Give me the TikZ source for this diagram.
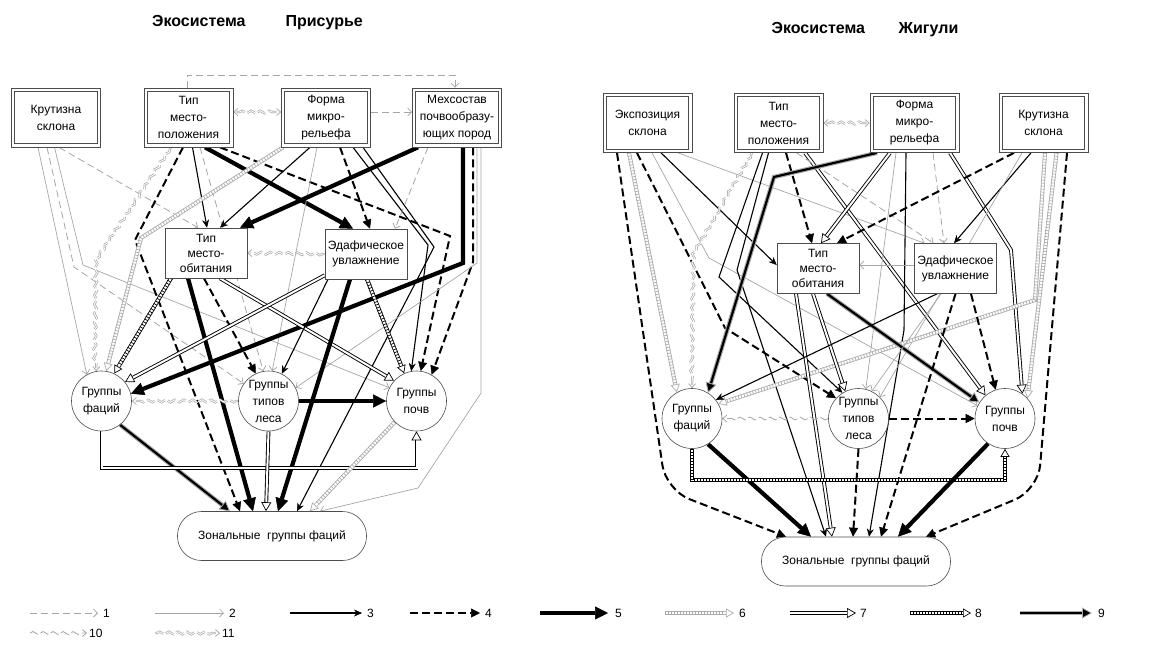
\documentclass[tikz,border=0pt]{standalone}
\usepackage{fontspec}
\setmainfont{Liberation Sans}
\usetikzlibrary{arrows.meta,decorations.pathmorphing,calc}
\pgfdeclarelayer{edges}
\pgfsetlayers{edges,main}
\newcommand{\myNodeFont}{\fontsize{12}{17}\selectfont}
\newcommand{\myMidFont}{\fontsize{12}{15}\selectfont}
\tikzset{
  topbox/.style={draw=gray!60!black, line width=0.7pt, fill=white,
     minimum width=89pt, minimum height=59pt, inner sep=1pt, align=center, font=\myNodeFont,
     path picture={\draw[gray!60!black, line width=0.7pt]
        ([shift={(3.3pt,3.3pt)}]path picture bounding box.south west) rectangle
        ([shift={(-3.3pt,-3.3pt)}]path picture bounding box.north east);}},
  midbox/.style={draw=gray!60!black, line width=0.6pt, fill=white, minimum width=82pt, minimum height=50pt,
     inner sep=1pt, align=center, font=\myMidFont},
  grp/.style={circle, draw=gray!60!black, line width=0.6pt, fill=white, minimum size=60pt, inner sep=0pt,
     align=center, font=\myNodeFont},
  zon/.style={rectangle, rounded corners=24pt, draw=gray!60!black, line width=0.6pt, fill=white,
     minimum width=189pt, minimum height=49pt, font=\myNodeFont},
  ttl/.style={font=\bfseries\fontsize{16}{18}\selectfont},
  lab/.style={anchor=west, inner sep=1pt, font=\fontsize{12}{14}\selectfont},
  a1/.style={draw=gray!70, line width=0.8pt, dash pattern=on 7pt off 4pt,
     -{Straight Barb[length=4pt,width=8pt,line width=0.8pt]}},
  a2/.style={draw=gray!70, line width=0.7pt, -{Straight Barb[length=4pt,width=8pt,line width=0.7pt]}},
  a3/.style={draw=black, line width=1.1pt, -{Stealth[length=8pt,width=7pt,line width=0.5pt]}},
  a4/.style={draw=black, line width=2pt, dash pattern=on 8pt off 4pt,
     -{Triangle[length=9pt,width=9pt,line width=0.5pt]}},
  a5/.style={draw=black, line width=4.2pt, -{Triangle[length=13pt,width=13pt,line width=0.5pt]}},
  a6/.style={preaction={draw=gray!65, solid, line width=4pt, shorten >=8pt, -},
     postaction={draw=gray!65, line width=4pt, dash pattern=on 0.7pt off 2.3pt, shorten >=9pt, -},
     draw=white, line width=2.4pt,
     -{Triangle[length=8pt,width=9pt,color=gray!65,fill=white,line width=0.7pt]}},
  a7/.style={preaction={draw=black, solid, line width=3.8pt, shorten >=9pt, -},
     draw=white, line width=2pt,
     -{Triangle[length=9pt,width=10pt,color=black,fill=white,line width=0.7pt]}},
  a8/.style={preaction={draw=black, solid, line width=4pt, shorten >=8pt, -},
     postaction={draw=black, line width=4pt, dash pattern=on 0.7pt off 2.3pt, shorten >=9pt, -},
     draw=white, line width=2.4pt,
     -{Triangle[length=8pt,width=9pt,color=black,fill=white,line width=0.7pt]}},
  a9/.style={preaction={draw=gray!65, solid, line width=4.4pt, shorten >=9pt, -},
     draw=black, line width=2.2pt,
     -{Triangle[length=10pt,width=11pt,color=gray!65,fill=black,line width=0.8pt]}},
  a10/.style={draw=gray!70, line width=0.8pt, decorate,
     decoration={snake, amplitude=1.5pt, segment length=10pt, post length=5pt},
     dash pattern=on 9pt off 3pt, -{Straight Barb[length=4pt,width=7pt,line width=0.8pt]}},
  a11/.style={
     postaction={draw=gray!65, line width=2.3pt, dash pattern=on 9pt off 3pt, decorate,
        decoration={snake, amplitude=1.3pt, segment length=9pt, pre length=2pt, post length=6pt}, shorten >=3pt},
     postaction={draw=white, line width=0.8pt, decorate,
        decoration={snake, amplitude=1.3pt, segment length=9pt, pre length=2pt, post length=6pt},
        -{Straight Barb[length=4pt,width=7pt,color=gray!65,line width=0.8pt]}}},
  a11both/.style={
     postaction={draw=gray!65, line width=2.3pt, dash pattern=on 9pt off 3pt, decorate,
        decoration={snake, amplitude=1.3pt, segment length=9pt, pre length=6pt, post length=6pt},
        shorten >=3pt, shorten <=3pt},
     postaction={draw=white, line width=0.8pt, decorate,
        decoration={snake, amplitude=1.3pt, segment length=9pt, pre length=6pt, post length=6pt},
        {Straight Barb[length=4pt,width=7pt,color=gray!65,line width=0.8pt]}-{Straight Barb[length=4pt,width=7pt,color=gray!65,line width=0.8pt]}}},
}
\begin{document}
\begin{tikzpicture}[x=1pt,y=-1pt]
\useasboundingbox (0,0) rectangle (1150,646);
% titles
\node[ttl] (t1) at (257.5,23) {Экосистема\hspace{2.5em}Присурье};
\node[ttl] (t2) at (865,30) {Экосистема\hspace{2.1em}Жигули};
% ---------------- left nodes
\node[topbox] (LKS) at (56,117.5) {Крутизна\\склона};
\node[topbox] (LTP) at (188.5,117.5) {Тип\\место-\\положения};
\node[topbox] (LFM) at (326,117.5) {Форма\\микро-\\рельефа};
\node[topbox] (LMS) at (457,117.5) {Мехсостав\\почвообразу-\\ющих пород};
\node[midbox] (LTO) at (206,253) {Тип\\место-\\обитания};
\node[midbox] (LEU) at (366,254) {Эдафическое\\увлажнение};
\node[grp] (LGF) at (101.5,401) {Группы\\фаций};
\node[grp] (LGL) at (268.5,401) {Группы\\типов\\леса};
\node[grp] (LGP) at (416.5,401) {Группы\\почв};
\node[zon] (LZG) at (272,536) {Зональные\ \ группы фаций};
% ---------------- right nodes
\node[topbox] (RKE) at (647.5,123) {Экспозиция\\склона};
\node[topbox] (RTP) at (778.5,123) {Тип\\место-\\положения};
\node[topbox] (RFM) at (914.5,123) {Форма\\микро-\\рельефа};
\node[topbox] (RKS) at (1043.5,123) {Крутизна\\склона};
\node[midbox] (RTO) at (818,268.5) {Тип\\место-\\обитания};
\node[midbox] (REU) at (955.5,268.5) {Эдафическое\\увлажнение};
\node[grp] (RGF) at (692,418.5) {Группы\\фаций};
\node[grp] (RGL) at (858.5,418.5) {Группы\\типов\\леса};
\node[grp] (RGP) at (1005,418.5) {Группы\\почв};
\node[zon] (RZG) at (856,561.5) {Зональные\ \ группы фаций};
% ---------------- legend
\coordinate (g1a) at (30,613);  \coordinate (g1b) at (98,613);
\coordinate (g2a) at (155,613); \coordinate (g2b) at (224,613);
\coordinate (g3a) at (290,613); \coordinate (g3b) at (362,613);
\coordinate (g4a) at (410,613); \coordinate (g4b) at (480,613);
\coordinate (g5a) at (540,613); \coordinate (g5b) at (608,613);
\coordinate (g6a) at (665,613); \coordinate (g6b) at (734,613);
\coordinate (g7a) at (790,613); \coordinate (g7b) at (856,613);
\coordinate (g8a) at (910,613); \coordinate (g8b) at (971,613);
\coordinate (g9a) at (1020,613); \coordinate (g9b) at (1092,613);
\coordinate (g10a) at (30,633); \coordinate (g10b) at (87,633);
\coordinate (g11a) at (155,633); \coordinate (g11b) at (220,633);
\node[lab] (n1) at (102,613) {1};
\node[lab] (n2) at (228,613) {2};
\node[lab] (n3) at (366,613) {3};
\node[lab] (n4) at (484,613) {4};
\node[lab] (n5) at (614,613) {5};
\node[lab] (n6) at (738,613) {6};
\node[lab] (n7) at (859,613) {7};
\node[lab] (n8) at (974,613) {8};
\node[lab] (n9) at (1097,613) {9};
\node[lab] (n10) at (88,633) {10};
\node[lab] (n11) at (221,633) {11};
\draw[a1] (g1a) -- (g1b);
\draw[a2] (g2a) -- (g2b);
\draw[a3] (g3a) -- (g3b);
\draw[a4] (g4a) -- (g4b);
\draw[a5] (g5a) -- (g5b);
\draw[a6] (g6a) -- (g6b);
\draw[a7] (g7a) -- (g7b);
\draw[a8] (g8a) -- (g8b);
\draw[a9] (g9a) -- (g9b);
\draw[a10] (g10a) -- (g10b);
\path[a11] (g11a) -- (g11b);
\begin{pgfonlayer}{edges}
% ---------------- left edges
\draw[a1] ([xshift=-1.5pt]LTP.north) -- (187,75) -- (455,75) -- ([xshift=-2pt]LMS.north);
\path[a11both] ([yshift=5.5pt]LTP.east) -- ([yshift=5.5pt]LFM.west);
\draw[a1] ([yshift=5.5pt]LFM.east) -- ([yshift=5.5pt]LMS.west);
\path[a11] (LEU.west) -- (LTO.east);
\draw[a2] ([xshift=-18pt]LKS.south) -- (LGF.119);
\draw[a1] ([xshift=-9pt]LKS.south) -- (74,267) -- (LGL.145);
\draw[a2] ([xshift=-1.5pt]LKS.south) -- (83,265) -- (LGP.154);
\draw[a1] ([xshift=3pt]LKS.south) -- ([xshift=-8pt]LTO.north);
\path[a11] ([xshift=-17.5pt]LTP.south) -- (98,257) -- (LGF.100);
\draw[a4] ([xshift=-5.5pt]LTP.south) -- (135,240) -- ([xshift=-32pt]LZG.north);
\draw[a3] ([xshift=4pt]LTP.south) -- ([xshift=1pt]LTO.north);
\draw[a1] ([xshift=11.5pt]LTP.south) -- (LGL.100);
\draw[a5] ([xshift=16.5pt]LTP.south) -- ([xshift=-13pt]LEU.north);
\draw[a4] ([xshift=31.5pt]LTP.south) -- (450,236) -- (LGP.82);
\draw[a3] ([xshift=-16pt]LFM.south) -- ([xshift=14pt]LTO.north);
\draw[a6] ([xshift=-43pt]LFM.south) -- (141,238) -- (LGF.81);
\draw[a2] ([xshift=-9pt]LFM.south) -- (LGL.83);
\draw[a4] ([xshift=14pt]LFM.south) -- ([xshift=4pt]LEU.north);
\draw[a3] ([xshift=27pt]LFM.south) -- (428,245) -- (LGP.100);
\draw[a3] ([xshift=37pt]LFM.south) -- (434,247) -- ([xshift=25pt]LZG.north);
\draw[a1] ([xshift=-29pt]LMS.south) -- ([xshift=29pt]LEU.north);
\draw[a5] ([xshift=-39pt]LMS.south) -- ([xshift=34pt]LTO.north);
\draw[a5] ([xshift=6pt]LMS.south) -- (463,263) -- (LGF.14);
\draw[a4] ([xshift=16pt]LMS.south) -- (473,262) -- (LGP.60);
\draw[a2] ([xshift=24pt]LMS.south) -- (481,393) -- (418,488) -- ([xshift=48pt]LZG.north);
\draw[a2] ([xshift=20pt]LMS.south) -- (477,263) -- (LGL.26);
\draw[a8] ([xshift=-35pt]LTO.south) -- (LGF.65);
\draw[a5] ([xshift=-18pt]LTO.south) -- ([xshift=-19pt]LZG.north);
\draw[a4] ([xshift=-2pt]LTO.south) -- (LGL.115);
\draw[a7] ([xshift=14pt]LTO.south) -- (LGP.138);
\draw[a7] ([yshift=4pt]LEU.south west) -- (LGF.39);
\draw[a8] ([xshift=1pt]LEU.south) -- (LGP.114);
\draw[a3] ([xshift=-38pt]LEU.south) -- (LGL.64);
\draw[a5] ([xshift=-16pt]LEU.south) -- ([xshift=6pt]LZG.north);
\draw[a9] (LGF.-52) -- ([xshift=-42pt]LZG.north);
\draw[a7] (LGF.south) -- (101.5,468) -- (416.5,468) -- (LGP.south);
\path[a11] (LGL.west) -- (LGF.east);
\draw[a5] (LGL.east) -- (LGP.west);
\draw[a7] (LGL.south) -- ([xshift=-6pt]LZG.north);
\draw[a6] (LGP.-136) -- ([xshift=38pt]LZG.north);
% ---------------- right edges
\draw[a4, rounded corners=25pt] ([xshift=-30.5pt]RKE.south) -- (666,490) -- ([xshift=-70pt]RZG.north);
\draw[a6] ([xshift=-18.5pt]RKE.south) -- (RGF.120);
\draw[a4] ([xshift=-10.5pt]RKE.south) -- (725,328) -- (RGL.138);
\draw[a2] ([xshift=4.5pt]RKE.south) -- (709,258) -- (RGP.155);
\draw[a3] ([xshift=13.5pt]RKE.south) -- ([yshift=3.5pt]RTO.west);
\draw[a2] ([xshift=30.5pt]RKE.south) -- ([xshift=-31pt]REU.north);
\path[a11both] (RTP.east) -- (RFM.west);
\path[a11] ([xshift=-26.5pt]RTP.south) -- (694,253) -- (RGF.90);
\draw[a3] ([xshift=-16pt]RTP.south) -- (719,277) -- (RGL.122);
\draw[a3] ([xshift=-10pt]RTP.south) -- (737,270) -- ([xshift=-30pt]RZG.north);
\draw[a4] ([xshift=7.5pt]RTP.south) -- ([xshift=-6pt]RTO.north);
\draw[a7] ([xshift=26.5pt]RTP.south) -- (RGP.130);
\draw[a1] ([xshift=18pt]RTP.south) -- ([xshift=-22pt]REU.north);
\draw[a9] ([xshift=-37.5pt]RFM.south) -- (774,177) -- (RGF.58);
\draw[a7] ([xshift=-24.5pt]RFM.south) -- ([xshift=3pt]RTO.north);
\draw[a3] ([xshift=-8.5pt]RFM.south) -- (904,330) -- ([xshift=13pt]RZG.north);
\draw[a2] ([xshift=-18.5pt]RFM.south) -- (RGL.76);
\draw[a1] ([xshift=18.5pt]RFM.south) -- ([xshift=-11.5pt]REU.north);
\draw[a7] ([xshift=35.5pt]RFM.south) -- (1011,250) -- (RGP.55);
\draw[a4] ([xshift=-29.5pt]RKS.south) -- ([xshift=19pt]RTO.north);
\draw[a3] ([xshift=-12.5pt]RKS.south) -- ([xshift=-1.5pt]REU.north);
\draw[a2] ([xshift=-21.5pt]RKS.south) -- (RGL.45);
\draw[a6] ([xshift=1.5pt]RKS.south) -- (1035,300) -- (RGF.29);
\draw[a6] ([xshift=13pt]RKS.south) -- (RGP.42);
\draw[a4, rounded corners=25pt] ([xshift=23.5pt]RKS.south) -- (1038,490) -- ([xshift=70pt]RZG.north);
\draw[a7] ([xshift=-22pt]RTO.south) -- ([xshift=-24pt]RZG.north);
\draw[a7] ([xshift=-5pt]RTO.south) -- (RGL.116);
\draw[a9] ([xshift=9pt]RTO.south) -- (RGP.148);
\draw[a2] ([yshift=3.5pt]REU.west) -- ([yshift=3.5pt]RTO.east);
\draw[a3] ([xshift=-18.5pt]REU.south) -- (RGF.38);
\draw[a4] ([xshift=15.5pt]REU.south) -- (RGP.108);
\draw[a4] (REU.south) -- ([xshift=25pt]RZG.north);
\draw[a2] ([xshift=-14.5pt]REU.south) -- (RGL.64);
\draw[a5] (RGF.-58) -- ([xshift=-45pt]RZG.north);
\draw[a8] (RGF.south) -- (692,480) -- (1005,480) -- (RGP.south);
\draw[a10] (RGL.west) -- (RGF.east);
\draw[a4] (RGL.east) -- (RGP.west);
\draw[a4] (RGL.south) -- ([xshift=-3pt]RZG.north);
\draw[a5] (RGP.-124) -- ([xshift=42pt]RZG.north);
\end{pgfonlayer}
\end{tikzpicture}
\end{document}
